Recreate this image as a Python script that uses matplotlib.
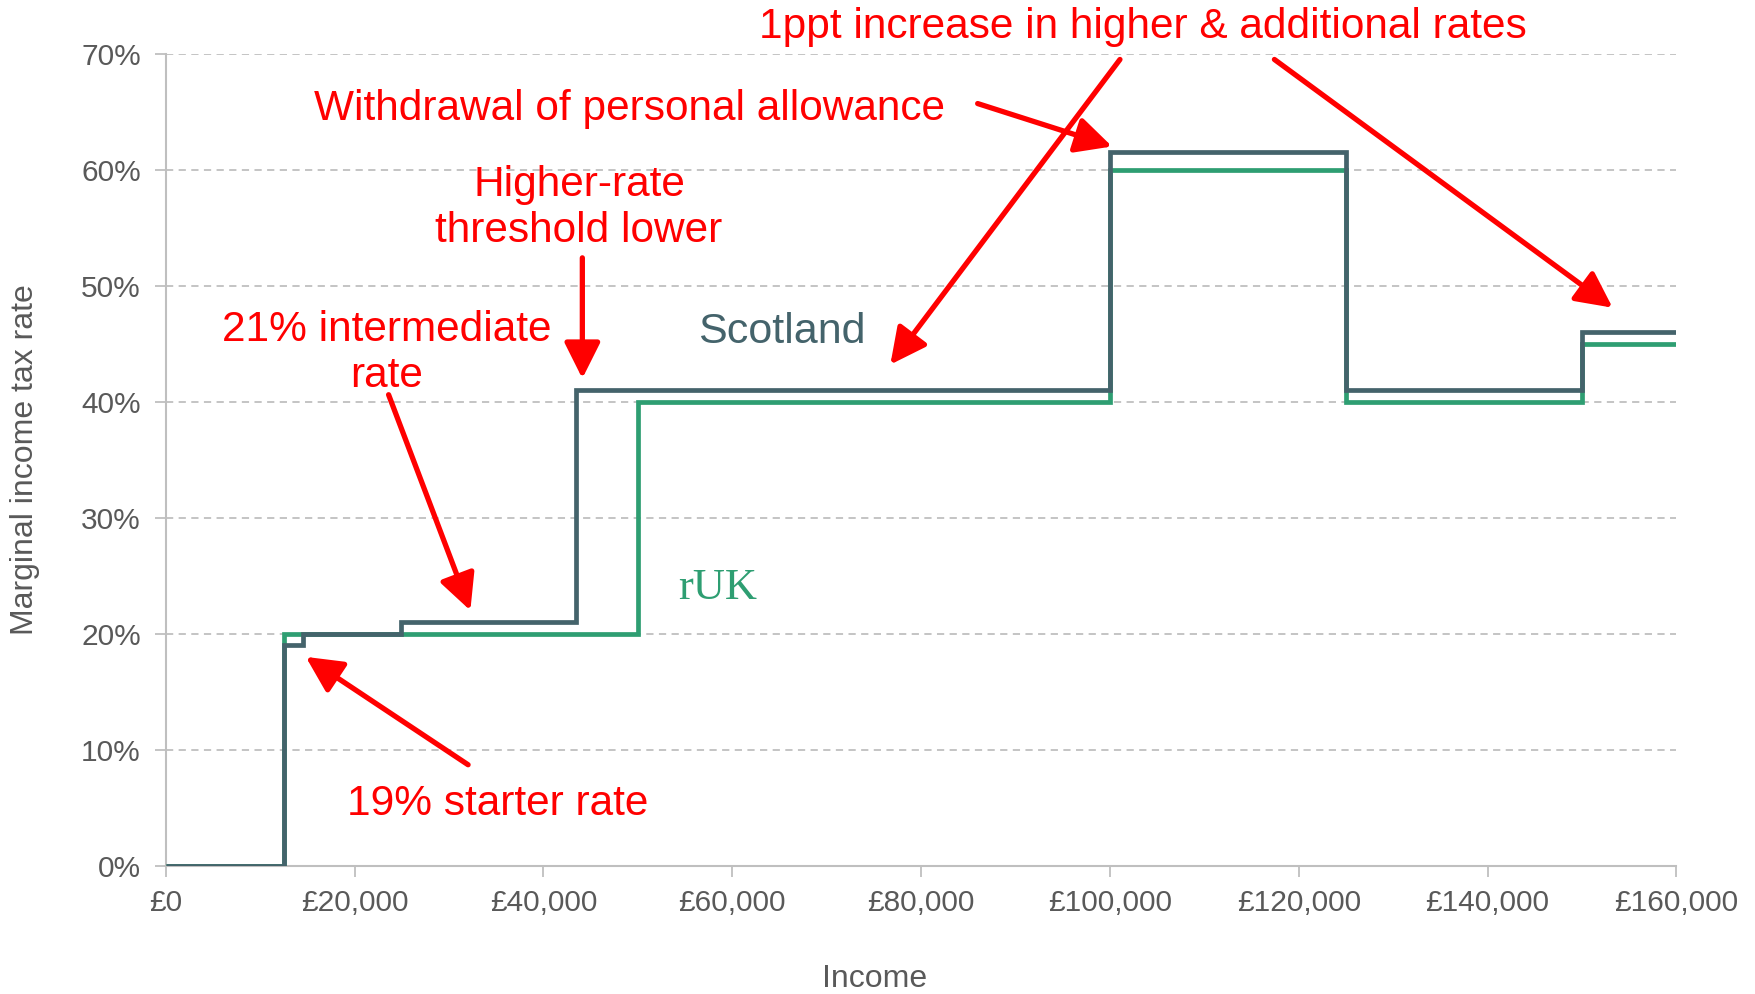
import matplotlib
matplotlib.use("Agg")
import matplotlib.pyplot as plt
from matplotlib.ticker import FuncFormatter

# income band edges (£) and marginal rates (%)
scot_edges = [0, 12500, 14549, 24944, 43430, 100000, 125000, 150000, 160000]
scot_rates = [0, 19, 20, 21, 41, 61.5, 41, 46]
ruk_edges = [0, 12500, 50000, 100000, 125000, 150000, 160000]
ruk_rates = [0, 20, 40, 60, 40, 45]

x_ticks = [0, 20000, 40000, 60000, 80000, 100000, 120000, 140000, 160000]
y_ticks = [0, 10, 20, 30, 40, 50, 60, 70]

plt.rcParams['font.family'] = ['Liberation Sans', 'DejaVu Sans']

grey = '#595959'
light = '#BFBFBF'
scot_col = '#44636B'
ruk_col = '#2E9E72'
red = '#FF0000'

fig = plt.figure(figsize=(17.56, 9.94), dpi=100)
ax = fig.add_axes([0.0944, 0.1291, 0.8603, 0.8169])

ax.stairs(ruk_rates, ruk_edges, baseline=None, color=ruk_col, lw=3.4, zorder=3)
ax.stairs(scot_rates, scot_edges, baseline=None, color=scot_col, lw=3.4, zorder=4)

ax.set_xlim(0, 160000)
ax.set_ylim(0, 70)
ax.set_xticks(x_ticks)
ax.set_yticks(y_ticks)
ax.xaxis.set_major_formatter(FuncFormatter(lambda v, p: '£{:,.0f}'.format(v)))
ax.yaxis.set_major_formatter(FuncFormatter(lambda v, p: '{:.0f}%'.format(v)))

for y in y_ticks[1:]:
    ax.axhline(y, color=light, lw=1.3, ls=(0, (4, 3)), zorder=1)

for s in ['top', 'right']:
    ax.spines[s].set_visible(False)
for s in ['left', 'bottom']:
    ax.spines[s].set_color(light)
    ax.spines[s].set_linewidth(1.5)
ax.tick_params(axis='both', colors=light, labelcolor=grey, labelsize=21.5, width=1.3, length=8)
ax.tick_params(axis='x', pad=9)
ax.tick_params(axis='y', pad=10)

# axis titles placed in figure coordinates
fig.text(0.014, 0.538, 'Marginal income tax rate', fontsize=23, color=grey,
         rotation=90, ha='center', va='center')
fig.text(0.498, 0.015, 'Income', fontsize=23, color=grey, ha='center', va='center')

# series labels
ax.text(65230, 46.0, 'Scotland', fontsize=31, color=scot_col, ha='center', va='center')
ax.text(58470, 23.9, 'rUK', fontsize=32, color=ruk_col, ha='center', va='center',
        family=['Liberation Serif', 'DejaVu Serif'])

# red annotations
notes = [
    ('1ppt increase in higher & additional rates', 103540, 72.3),
    ('Withdrawal of personal allowance', 49100, 65.2),
    ('Higher-rate\nthreshold lower', 43770, 56.7),
    ('21% intermediate\nrate', 23365, 44.2),
    ('19% starter rate', 35110, 5.3),
]
for txt, x, y in notes:
    ax.text(x, y, txt, fontsize=30.5, color=red, ha='center', va='center',
            linespacing=1.2, clip_on=False)

arrows = [
    ((101060, 69.5), (76740, 43.2)),
    ((117420, 69.5), (153240, 48.1)),
    ((85990, 65.7), (100220, 62.0)),
    ((44120, 52.4), (44120, 42.0)),
    ((23600, 40.6), (32260, 22.0)),
    ((32020, 8.7), (14830, 18.0)),
]
for tail, head in arrows:
    ax.annotate('', xy=head, xytext=tail, annotation_clip=False,
                arrowprops=dict(arrowstyle='-|>,head_length=1.1,head_width=0.55',
                                mutation_scale=20, lw=3.8, color=red,
                                shrinkA=0, shrinkB=0), zorder=5)

fig.savefig('out.png', dpi=100, facecolor='white')
